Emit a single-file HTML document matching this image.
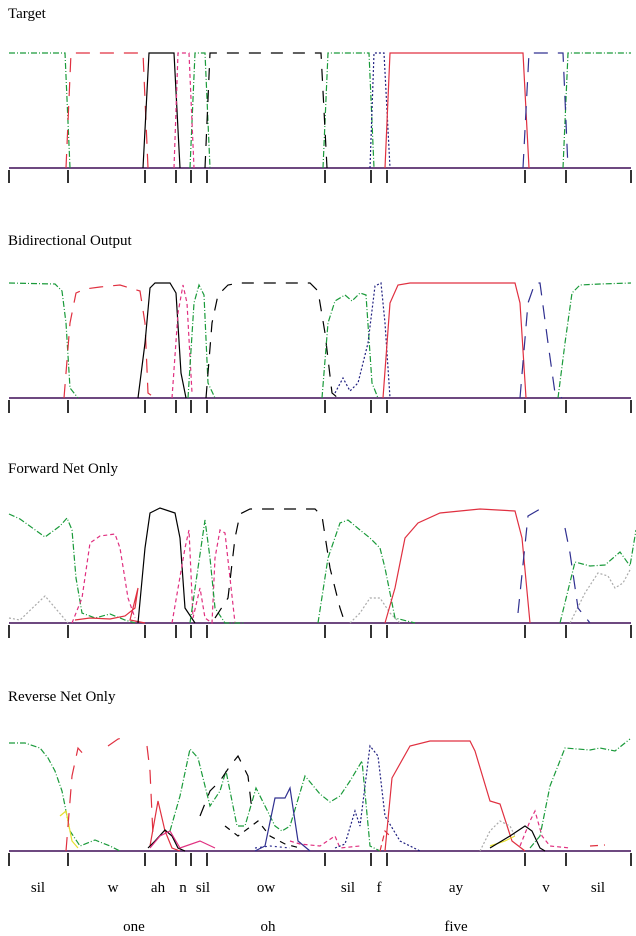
<!DOCTYPE html>
<html><head><meta charset="utf-8"><style>
html,body{margin:0;padding:0;background:#fff;}
svg{display:block;font-family:"Liberation Serif",serif;}
</style></head><body>
<svg width="636" height="936" viewBox="0 0 636 936" xmlns="http://www.w3.org/2000/svg">
<defs>
<g id="ticks" stroke="#000" stroke-width="1.6">
<line x1="9" y1="117" x2="9" y2="130"/><line x1="68" y1="117" x2="68" y2="130"/>
<line x1="145" y1="117" x2="145" y2="130"/><line x1="176" y1="117" x2="176" y2="130"/>
<line x1="191" y1="117" x2="191" y2="130"/><line x1="207" y1="117" x2="207" y2="130"/>
<line x1="325" y1="117" x2="325" y2="130"/><line x1="371" y1="117" x2="371" y2="130"/>
<line x1="387" y1="117" x2="387" y2="130"/><line x1="525" y1="117" x2="525" y2="130"/>
<line x1="566" y1="117" x2="566" y2="130"/><line x1="631" y1="117" x2="631" y2="130"/>
</g>
</defs>
<g font-size="15" fill="#000">
<text x="8" y="18">Target</text>
<text x="8" y="245">Bidirectional Output</text>
<text x="8" y="473">Forward Net Only</text>
<text x="8" y="701">Reverse Net Only</text>
<text x="38" y="892" text-anchor="middle">sil</text>
<text x="113" y="892" text-anchor="middle">w</text>
<text x="158" y="892" text-anchor="middle">ah</text>
<text x="183" y="892" text-anchor="middle">n</text>
<text x="203" y="892" text-anchor="middle">sil</text>
<text x="266" y="892" text-anchor="middle">ow</text>
<text x="348" y="892" text-anchor="middle">sil</text>
<text x="379" y="892" text-anchor="middle">f</text>
<text x="456" y="892" text-anchor="middle">ay</text>
<text x="546" y="892" text-anchor="middle">v</text>
<text x="598" y="892" text-anchor="middle">sil</text>
<text x="134" y="931" text-anchor="middle">one</text>
<text x="268" y="931" text-anchor="middle">oh</text>
<text x="456" y="931" text-anchor="middle">five</text>
</g>

<!-- Panel 1 Target -->
<g transform="translate(0,53)" fill="none" stroke-width="1.2">
<line x1="9" y1="115" x2="631" y2="115" stroke="#5a2f6e" stroke-width="1.8"/>
<polyline stroke="#1a9a3a" stroke-dasharray="6,2,1,2" points="9,0 65,0 70,115 M0,0"/>
<polyline stroke="#1a9a3a" stroke-dasharray="6,2,1,2" points="190,115 195,0 205,0 210,115"/>
<polyline stroke="#1a9a3a" stroke-dasharray="6,2,1,2" points="323,115 328,0 369,0 374,115"/>
<polyline stroke="#1a9a3a" stroke-dasharray="6,2,1,2" points="563,115 568,0 631,0"/>
<polyline stroke="#e03040" stroke-dasharray="14,10" points="66,115 71,0 143,0 148,115"/>
<polyline stroke="#000" points="143,115 149,0 174,0 180,115"/>
<polyline stroke="#e03080" stroke-dasharray="4,3" points="174,115 178,0 189,0 194,115"/>
<polyline stroke="#000" stroke-dasharray="12,10" points="205,115 210,0 321,0 327,115"/>
<polyline stroke="#202080" stroke-dasharray="2,2" points="370,115 374,0 384,0 390,115"/>
<polyline stroke="#e03040" points="385,115 390,0 523,0 529,115"/>
<polyline stroke="#303090" stroke-dasharray="14,10" points="523,115 529,0 563,0 568,115"/>
<use href="#ticks"/>
</g>

<!-- Panel 2 Bidirectional -->
<g transform="translate(0,283)" fill="none" stroke-width="1.2">
<line x1="9" y1="115" x2="631" y2="115" stroke="#5a2f6e" stroke-width="1.8"/>
<polyline stroke="#1a9a3a" stroke-dasharray="6,2,1,2" points="9,0 55,1 62,8 66,40 70,105 78,115"/>
<polyline stroke="#e03040" stroke-dasharray="14,10" points="64,115 70,40 76,10 85,6 100,4 120,2 140,8 145,40 148,110 155,115"/>
<polyline stroke="#000" points="138,115 145,60 150,5 155,0 170,0 176,10 181,90 186,115"/>
<polyline stroke="#e03080" stroke-dasharray="4,3" points="172,115 178,30 183,2 187,20 192,110"/>
<polyline stroke="#1a9a3a" stroke-dasharray="6,2,1,2" points="188,115 194,20 199,2 204,12 208,100 215,115"/>
<polyline stroke="#000" stroke-dasharray="12,10" points="206,115 212,40 218,12 228,2 240,0 310,0 318,8 325,50 332,110 338,115"/>
<polyline stroke="#1a9a3a" stroke-dasharray="6,2,1,2" points="322,115 328,40 335,18 345,12 352,18 360,10 366,12 372,100 378,115"/>
<polyline stroke="#202080" stroke-dasharray="2,2" points="335,110 343,95 350,108 358,100 368,60 375,3 381,0 385,40 390,115"/>
<polyline stroke="#e03040" points="383,115 390,20 398,2 410,0 515,0 520,20 526,115"/>
<polyline stroke="#303090" stroke-dasharray="14,10" points="520,115 528,20 535,0 540,0 548,60 555,110 562,115"/>
<polyline stroke="#1a9a3a" stroke-dasharray="6,2,1,2" points="558,115 565,60 572,10 580,2 600,1 631,0"/>
<use href="#ticks"/>
</g>

<!-- Panel 3 Forward -->
<g transform="translate(0,508)" fill="none" stroke-width="1.2">
<line x1="9" y1="115" x2="631" y2="115" stroke="#5a2f6e" stroke-width="1.8"/>
<polyline stroke="#aaa" stroke-dasharray="2,2" points="9,110 20,112 45,88 68,115"/>
<polyline stroke="#aaa" stroke-dasharray="2,2" points="350,115 360,105 370,90 380,90 390,105 400,115"/>
<polyline stroke="#aaa" stroke-dasharray="2,2" points="570,115 585,85 598,65 608,68 615,80 623,75 631,60"/>
<polyline stroke="#1a9a3a" stroke-dasharray="6,2,1,2" points="9,6 20,11 45,29 60,18 67,10 72,22 76,70 82,105 95,110 110,106 125,112 135,115"/>
<polyline stroke="#e03040" points="75,112 90,110 110,111 125,108 135,100 138,80 130,112 145,115"/>
<polyline stroke="#e03080" stroke-dasharray="4,3" points="72,115 82,90 90,35 100,28 115,26 120,40 128,90 135,110"/>
<polyline stroke="#000" points="138,115 145,40 150,5 160,0 175,5 180,30 185,100 195,115"/>
<polyline stroke="#e03080" stroke-dasharray="4,3" points="172,115 185,40 189,22 193,110 200,80 205,110 212,115 215,50 220,22 225,25 230,70 235,115"/>
<polyline stroke="#1a9a3a" stroke-dasharray="6,2,1,2" points="190,115 198,60 205,12 210,50 215,100 225,115 245,115"/>
<polyline stroke="#000" stroke-dasharray="12,10" points="215,110 228,90 235,30 240,6 250,1 315,1 322,8 330,60 340,100 345,115"/>
<polyline stroke="#1a9a3a" stroke-dasharray="6,2,1,2" points="318,115 328,50 340,15 348,12 360,22 370,30 380,40 385,60 395,110 415,115"/>
<polyline stroke="#e03040" points="385,115 395,80 405,30 418,15 440,5 480,1 515,3 522,30 530,115"/>
<polyline stroke="#303090" stroke-dasharray="14,10" points="518,105 528,8 540,1"/>
<polyline stroke="#303090" stroke-dasharray="14,10" points="565,20 570,45 578,100 590,115"/>
<polyline stroke="#1a9a3a" stroke-dasharray="6,2,1,2" points="560,115 575,54 590,58 605,57 620,44 630,58 636,22"/>
<use href="#ticks"/>
</g>

<!-- Panel 4 Reverse -->
<g transform="translate(0,736)" fill="none" stroke-width="1.2">
<line x1="9" y1="115" x2="631" y2="115" stroke="#5a2f6e" stroke-width="1.8"/>
<polyline stroke="#1a9a3a" stroke-dasharray="6,2,1,2" points="9,7 25,7 40,12 48,22 55,35 62,55 70,95 80,110 95,104 110,110 120,115"/>
<polyline stroke="#e6e030" points="60,80 66,75 72,105 78,112"/>
<polyline stroke="#e03040" stroke-dasharray="14,10" points="66,115 72,40 78,12 85,20"/>
<polyline stroke="#e03040" stroke-dasharray="14,10" points="108,10 118,3 126,1"/>
<polyline stroke="#e03040" stroke-dasharray="14,10" points="147,10 150,35 153,100"/>
<polyline stroke="#e03040" points="150,110 158,65 165,95 172,112 180,115"/>
<polyline stroke="#000" points="148,112 155,105 165,94 172,100 178,112 185,115"/>
<polyline stroke="#e03080" points="150,112 160,100 170,95 180,112 200,105 215,112"/>
<polyline stroke="#1a9a3a" stroke-dasharray="6,2,1,2" points="170,95 180,60 190,13 198,22 210,70 220,55 226,35 237,90 245,90 256,52 265,70 275,90 282,95 290,90 305,40 320,58 330,66 340,60 350,45 362,25 370,110 380,115"/>
<polyline stroke="#000" stroke-dasharray="12,10" points="200,80 210,55 220,45 230,30 238,20 248,40 252,75"/>
<polyline stroke="#000" stroke-dasharray="6,6" points="225,90 238,100 258,85 270,100 285,108 300,112"/>
<polyline stroke="#303090" points="255,115 265,110 275,62 285,62 290,52 298,105 310,115"/>
<polyline stroke="#303090" stroke-dasharray="2,3" points="255,112 270,110 290,112"/>
<polyline stroke="#e03080" stroke-dasharray="4,3" points="290,105 300,108 320,110 335,100 340,112 360,110"/>
<polyline stroke="#202080" stroke-dasharray="2,2" points="335,112 345,108 355,75 360,90 370,10 378,20 385,80 400,105 420,115"/>
<polyline stroke="#e03040" stroke-dasharray="6,4" points="380,115 385,95 390,100"/>
<polyline stroke="#e03040" points="385,115 392,42 410,10 430,5 470,5 475,15 490,65 500,68 512,105 525,115"/>
<polyline stroke="#aaa" stroke-dasharray="2,2" points="480,115 490,95 500,85 510,90 515,100"/>
<polyline stroke="#e6e030" points="490,110 505,105 515,100"/>
<polyline stroke="#000" points="490,112 510,100 525,90 532,95 540,112 545,115"/>
<polyline stroke="#e03080" stroke-dasharray="4,3" points="520,110 530,85 535,75 542,100 550,110 570,112"/>
<polyline stroke="#1a9a3a" stroke-dasharray="6,2,1,2" points="530,112 540,100 550,50 565,12 590,14 600,12 615,15 630,3"/>
<polyline stroke="#e03040" stroke-dasharray="8,6" points="590,110 605,109"/>
<use href="#ticks"/>
</g>
</svg>
</body></html>
